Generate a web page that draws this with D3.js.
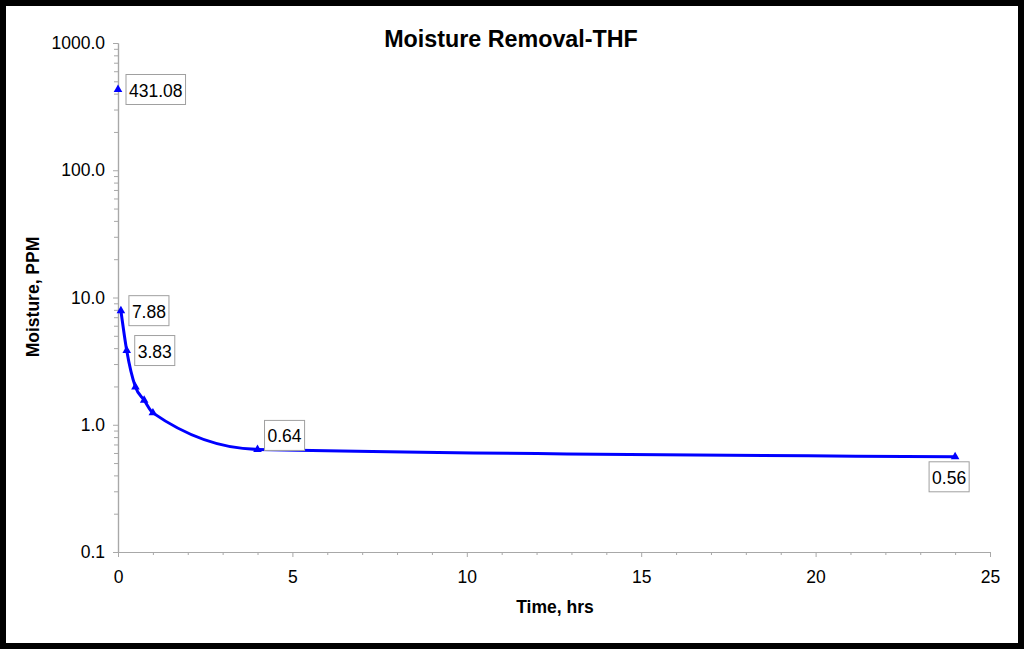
<!DOCTYPE html>
<html>
<head>
<meta charset="utf-8">
<script src="https://cdn.jsdelivr.net/npm/d3@7"></script>
<style>
  body { margin: 0; background: #fff; }
  svg { display: block; font-family: "Liberation Sans", Arial, sans-serif; }
</style>
</head>
<body>
<svg id="chart" width="1024" height="649"></svg>
<script>
// data
var initialTime = [0];
var initialMoisture = [431.08];
var times = [0.083, 0.25, 0.5, 0.75, 1, 4, 24];
var moisture = [7.88, 3.83, 1.98, 1.56, 1.24, 0.64, 0.56];
var labelSide = ["right", "right", null, null, null, "upper-right", "below"];
var yTicks = [0.1, 1, 10, 100, 1000];
var xTicks = [0, 5, 10, 15, 20, 25];

var W = 1024, H = 649;
var svg = d3.select("#chart");

// frame
svg.append("rect").attr("x", 3).attr("y", 3).attr("width", W - 6).attr("height", H - 6)
  .attr("fill", "#fff").attr("stroke", "#000").attr("stroke-width", 6);

var x = d3.scaleLinear().domain([0, 25]).range([118, 990]);
var y = d3.scaleLog().domain([0.1, 1000]).range([552, 43]);

// minor ticks
var yMinor = [];
yTicks.slice(0, -1).forEach(function (d) {
  for (var k = 2; k <= 9; k++) yMinor.push(d * k);
});
var xMinor = d3.range(0, 26).filter(function (d) { return d % 5 != 0; });

function grayAxis(g) {
  g.selectAll("path, line").attr("stroke", "#a8a8a8");
  g.select(".domain").attr("stroke-width", 1.2);
  g.selectAll("text").attr("fill", "#000").style("font-size", "17.5px");
}

svg.append("g").attr("transform", "translate(118,0)")
  .call(d3.axisLeft(y).tickValues(yMinor).tickSize(4).tickFormat("").tickSizeOuter(0))
  .call(grayAxis);
svg.append("g").attr("transform", "translate(118,0)")
  .call(d3.axisLeft(y).tickValues(yTicks).tickFormat(d3.format(".1f")).tickSize(5).tickPadding(8).tickSizeOuter(0))
  .call(grayAxis);

svg.append("g").attr("transform", "translate(0,552)")
  .call(d3.axisBottom(x).tickValues(xMinor).tickSize(3).tickFormat("").tickSizeOuter(0))
  .call(grayAxis);
svg.append("g").attr("transform", "translate(0,552)")
  .call(d3.axisBottom(x).tickValues(xTicks).tickSize(5).tickPadding(13.5).tickSizeOuter(0))
  .call(grayAxis);

// titles
svg.append("text").attr("x", 511).attr("y", 47).attr("text-anchor", "middle")
  .style("font-size", "23.3px").style("font-weight", "bold").text("Moisture Removal-THF");
svg.append("text").attr("transform", "translate(39,297) rotate(-90)").attr("text-anchor", "middle")
  .style("font-size", "17.5px").style("font-weight", "bold").text("Moisture, PPM");
svg.append("text").attr("x", 555).attr("y", 613).attr("text-anchor", "middle")
  .style("font-size", "17.5px").style("font-weight", "bold").text("Time, hrs");

// smoothed line
var pts = times.map(function (t, i) { return [t, moisture[i]]; });
var line = d3.line()
  .x(function (d) { return x(d[0]); })
  .y(function (d) { return y(d[1]); })
  .curve(d3.curveMonotoneX);
svg.append("path").datum(pts).attr("d", line)
  .attr("fill", "none").attr("stroke", "#0000ff").attr("stroke-width", 3);

var tri = d3.symbol().type(d3.symbolTriangle).size(32);
var all = [[initialTime[0], initialMoisture[0], "right"]].concat(
  pts.map(function (p, i) { return [p[0], p[1], labelSide[i]]; }));

svg.append("g").selectAll("path").data(all).join("path")
  .attr("d", tri)
  .attr("transform", function (d) { return "translate(" + x(d[0]) + "," + y(d[1]) + ")"; })
  .attr("fill", "#0000ff");

// data labels
var labels = svg.append("g");
all.filter(function (d) { return d[2]; }).forEach(function (d) {
  var px = x(d[0]), py = y(d[1]);
  var g = labels.append("g");
  var box = g.append("rect").attr("fill", "#fff").attr("stroke", "#a0a0a0").attr("stroke-width", 1);
  var t = g.append("text").style("font-size", "17.5px").attr("fill", "#000")
    .attr("dominant-baseline", "central").text(d[1].toFixed(2));
  var w = t.node().getComputedTextLength() + 6, h = 30;
  var left, cy;
  if (d[2] == "right") { left = px + 8; cy = py; }
  else if (d[2] == "upper-right") { left = px + 7; cy = py - 14; }
  else { left = px - 6 - w / 2; cy = py + 5 + h / 2; }
  box.attr("x", left).attr("y", cy - h / 2).attr("width", w).attr("height", h);
  t.attr("x", left + 3).attr("y", cy + 1);
});
</script>
</body>
</html>
